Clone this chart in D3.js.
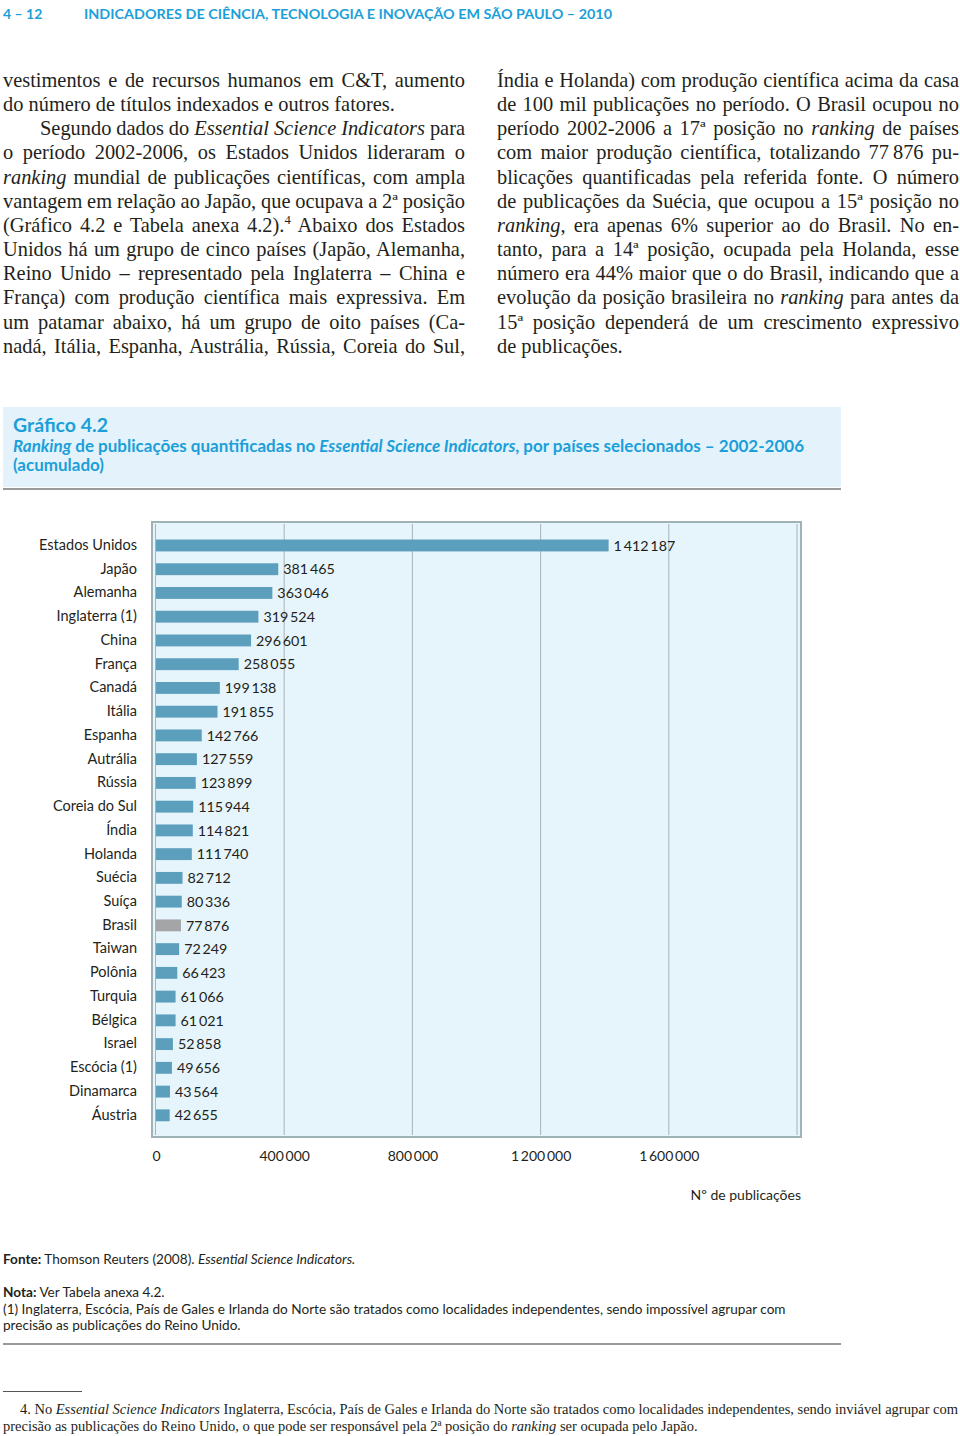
<!DOCTYPE html>
<html lang="pt">
<head>
<meta charset="utf-8">
<script src="https://cdn.jsdelivr.net/npm/d3@7"></script>
<style>
  html, body { margin: 0; padding: 0; background: #fff; }
  svg { display: block; }
</style>
</head>
<body>
<svg id="page" width="960" height="1436"></svg>
<script>
// ---------------- DATA ----------------
const countries = ["Estados Unidos","Japão","Alemanha","Inglaterra (1)","China","França","Canadá","Itália",
  "Espanha","Autrália","Rússia","Coreia do Sul","Índia","Holanda","Suécia","Suíça","Brasil","Taiwan",
  "Polônia","Turquia","Bélgica","Israel","Escócia (1)","Dinamarca","Áustria"];
const publications = [1412187,381465,363046,319524,296601,258055,199138,191855,
  142766,127559,123899,115944,114821,111740,82712,80336,77876,72249,
  66423,61066,61021,52858,49656,43564,42655];
const highlighted = ["Brasil"];
const tickValues = [0, 400000, 800000, 1200000, 1600000];
const gridValues = [400000, 800000, 1200000, 1600000, 2000000];
const xMax = 2000000;

// ---------------- TEXT ----------------
const headerPage = "4 – 12";
const headerTitle = "INDICADORES DE CIÊNCIA, TECNOLOGIA E INOVAÇÃO EM SÃO PAULO – 2010";
const leftLines = [
  {t:"vestimentos e de recursos humanos em C&T, aumento", j:true},
  {t:"do número de títulos indexados e outros fatores.", j:false},
  {t:"Segundo dados do *Essential Science Indicators* para", j:true, indent:37},
  {t:"o período 2002-2006, os Estados Unidos lideraram o", j:true},
  {t:"*ranking* mundial de publicações científicas, com ampla", j:true},
  {t:"vantagem em relação ao Japão, que ocupava a 2ª posição", j:true},
  {t:"(Gráfico 4.2 e Tabela anexa 4.2).^4^ Abaixo dos Estados", j:true},
  {t:"Unidos há um grupo de cinco países (Japão, Alemanha,", j:true},
  {t:"Reino Unido – representado pela Inglaterra – China e", j:true},
  {t:"França) com produção científica mais expressiva. Em", j:true},
  {t:"um patamar abaixo, há um grupo de oito países (Ca-", j:true},
  {t:"nadá, Itália, Espanha, Austrália, Rússia, Coreia do Sul,", j:true}
];
const rightLines = [
  {t:"Índia e Holanda) com produção científica acima da casa", j:true},
  {t:"de 100 mil publicações no período. O Brasil ocupou no", j:true},
  {t:"período 2002-2006 a 17ª posição no *ranking* de países", j:true},
  {t:"com maior produção científica, totalizando 77\u2009876 pu-", j:true},
  {t:"blicações quantificadas pela referida fonte. O número", j:true},
  {t:"de publicações da Suécia, que ocupou a 15ª posição no", j:true},
  {t:"*ranking*, era apenas 6% superior ao do Brasil. No en-", j:true},
  {t:"tanto, para a 14ª posição, ocupada pela Holanda, esse", j:true},
  {t:"número era 44% maior que o do Brasil, indicando que a", j:true},
  {t:"evolução da posição brasileira no *ranking* para antes da", j:true},
  {t:"15ª posição dependerá de um crescimento expressivo", j:true},
  {t:"de publicações.", j:false}
];

const BLUE_TXT = "#1c9fd9";
const BAR = "#5b9fbd";
const BAR_HI = "#a4a5a7";
const PLOT_BG = "#e6f4fb";
const GRID = "#a9b3b6";
const BORDER = "#9fb3b7";
const SANS = "Lato, 'Open Sans', sans-serif";
const SERIF = "'Liberation Serif', 'DejaVu Serif', serif";

const svg = d3.select("#page");

// parse simple markup: *italic*, ^sup^
function addRich(textSel, str, fontSize) {
  const re = /(\*[^*]+\*|\^[^^]+\^)/g;
  let pendingDy = 0;
  str.split(re).filter(s => s.length).forEach(seg => {
    let ts;
    if (seg.startsWith("*")) {
      ts = textSel.append("tspan").attr("font-style", "italic").text(seg.slice(1, -1));
    } else if (seg.startsWith("^")) {
      ts = textSel.append("tspan").attr("font-size", fontSize * 0.62).attr("dy", -fontSize * 0.38).text(seg.slice(1, -1));
      pendingDy = fontSize * 0.38;
      return;
    } else {
      ts = textSel.append("tspan").text(seg);
    }
    if (pendingDy) { ts.attr("dy", pendingDy); pendingDy = 0; }
  });
}
function justify(textSel, str, width) {
  const node = textSel.node();
  const w = node.getComputedTextLength();
  const n = (str.match(/ /g) || []).length;
  if (n > 0) textSel.attr("word-spacing", (width - w) / n);
}

// ---------------- HEADER ----------------
svg.append("text").attr("x", 3).attr("y", 19).attr("font-family", SANS).attr("font-weight", 700)
  .attr("font-size", 14).attr("fill", BLUE_TXT).text(headerPage);
svg.append("text").attr("x", 84).attr("y", 19).attr("font-family", SANS).attr("font-weight", 700)
  .attr("font-size", 14).attr("fill", BLUE_TXT).attr("textLength", 528).attr("lengthAdjust", "spacingAndGlyphs")
  .text(headerTitle);

// ---------------- BODY TEXT ----------------
function drawColumn(lines, x0, width) {
  const fs = 20.4, lh = 24.15, base = 87;
  lines.forEach((ln, i) => {
    const ind = ln.indent || 0;
    const t = svg.append("text").attr("x", x0 + ind).attr("y", base + i * lh)
      .attr("font-family", SERIF).attr("font-size", fs).attr("fill", "#231f20");
    addRich(t, ln.t, fs);
    if (ln.j) justify(t, ln.t, width - ind);
  });
}
drawColumn(leftLines, 3, 462);
drawColumn(rightLines, 497, 462);

// ---------------- CHART TITLE ----------------
svg.append("rect").attr("x", 3).attr("y", 407).attr("width", 838).attr("height", 80).attr("fill", "#e4f3fb");
svg.append("line").attr("x1", 3).attr("x2", 841).attr("y1", 489).attr("y2", 489).attr("stroke", "#9a9a9a").attr("stroke-width", 2);
svg.append("text").attr("x", 13).attr("y", 432).attr("font-family", SANS).attr("font-weight", 700)
  .attr("font-size", 19.5).attr("fill", BLUE_TXT).text("Gráfico 4.2");
const subStr = "*Ranking* de publicações quantificadas no *Essential Science Indicators*, por países selecionados – 2002-2006";
const sub1 = svg.append("text").attr("x", 13).attr("y", 452).attr("font-family", SANS).attr("font-weight", 700)
  .attr("font-size", 17).attr("fill", BLUE_TXT);
addRich(sub1, subStr, 17);
justify(sub1, subStr, 791);
svg.append("text").attr("x", 13).attr("y", 471).attr("font-family", SANS).attr("font-weight", 700)
  .attr("font-size", 17).attr("fill", BLUE_TXT).text("(acumulado)");

// ---------------- CHART ----------------
const x = d3.scaleLinear().domain([0, xMax]).range([156, 797]);
const y = d3.scaleBand().domain(countries).range([533.6, 1127.2]).paddingInner(0.5).paddingOuter(0.25);
const fmt = d3.formatLocale({decimal: ",", thousands: "\u2009", grouping: [3], currency: ["", ""]}).format(",d");
const data = countries.map((c, i) => ({country: c, value: publications[i]}));

const plot = svg.append("g");
plot.append("rect").attr("x", 152).attr("y", 522).attr("width", 649).attr("height", 615)
  .attr("fill", PLOT_BG).attr("stroke", BORDER).attr("stroke-width", 2);

plot.selectAll("line.grid").data(gridValues).join("line").attr("class", "grid")
  .attr("x1", d => x(d)).attr("x2", d => x(d)).attr("y1", 524).attr("y2", 1135)
  .attr("stroke", GRID).attr("stroke-width", 1);
plot.append("line").attr("x1", x(0) - 0.5).attr("x2", x(0) - 0.5).attr("y1", 524).attr("y2", 1135)
  .attr("stroke", GRID).attr("stroke-width", 1);

plot.selectAll("rect.bar").data(data).join("rect").attr("class", "bar")
  .attr("x", x(0)).attr("y", d => y(d.country)).attr("width", d => x(d.value) - x(0))
  .attr("height", y.bandwidth())
  .attr("fill", d => highlighted.includes(d.country) ? BAR_HI : BAR);

plot.selectAll("text.val").data(data).join("text").attr("class", "val")
  .attr("x", d => x(d.value) + 5).attr("y", d => y(d.country) + y.bandwidth() / 2)
  .attr("dy", "0.36em").attr("font-family", SANS).attr("font-size", 14.3).attr("fill", "#231f20")
  .text(d => fmt(d.value));

// y axis (categories)
const yAxis = svg.append("g").attr("transform", "translate(137,0)")
  .call(d3.axisLeft(y).tickSize(0).tickPadding(0));
yAxis.select(".domain").remove();
yAxis.selectAll("text").attr("font-family", SANS).attr("font-size", 14.5).attr("fill", "#231f20").attr("dy", "0.3em");

// x axis (ticks)
const xAxis = svg.append("g").attr("transform", "translate(0,1148)")
  .call(d3.axisBottom(x).tickValues(tickValues).tickSize(0).tickPadding(3).tickFormat(fmt));
xAxis.select(".domain").remove();
xAxis.selectAll("text").attr("font-family", SANS).attr("font-size", 14).attr("fill", "#231f20");

svg.append("text").attr("x", 801).attr("y", 1200).attr("text-anchor", "end").attr("font-family", SANS)
  .attr("font-size", 14).attr("fill", "#231f20").text("Nº de publicações");

// ---------------- NOTES ----------------
function noteLine(yPos, parts) {
  const t = svg.append("text").attr("x", 3).attr("y", yPos).attr("font-family", SANS)
    .attr("font-size", 13.6).attr("fill", "#231f20");
  parts.forEach(p => {
    const ts = t.append("tspan").text(p.t);
    if (p.b) ts.attr("font-weight", 700);
    if (p.i) ts.attr("font-style", "italic");
  });
  return t;
}
noteLine(1264, [{t:"Fonte:", b:true}, {t:" Thomson Reuters (2008). "}, {t:"Essential Science Indicators.", i:true}]);
noteLine(1297, [{t:"Nota:", b:true}, {t:" Ver Tabela anexa 4.2."}]);
noteLine(1314, [{t:"(1) Inglaterra, Escócia, País de Gales e Irlanda do Norte são tratados como localidades independentes, sendo impossível agrupar com"}]);
noteLine(1330, [{t:"precisão as publicações do Reino Unido."}]);
svg.append("line").attr("x1", 3).attr("x2", 841).attr("y1", 1344).attr("y2", 1344).attr("stroke", "#9a9a9a").attr("stroke-width", 2);

// footnote
svg.append("line").attr("x1", 3).attr("x2", 82).attr("y1", 1391.5).attr("y2", 1391.5).attr("stroke", "#555").attr("stroke-width", 1);
const fn1str = "4. No *Essential Science Indicators* Inglaterra, Escócia, País de Gales e Irlanda do Norte são tratados como localidades independentes, sendo inviável agrupar com";
const fn1 = svg.append("text").attr("x", 20).attr("y", 1414).attr("font-family", SERIF).attr("font-size", 14.5).attr("fill", "#231f20");
addRich(fn1, fn1str, 14.5);
justify(fn1, fn1str, 938);
const fn2 = svg.append("text").attr("x", 3).attr("y", 1431).attr("font-family", SERIF).attr("font-size", 14.5).attr("fill", "#231f20");
addRich(fn2, "precisão as publicações do Reino Unido, o que pode ser responsável pela 2ª posição do *ranking* ser ocupada pelo Japão.", 14.5);
</script>
</body>
</html>
